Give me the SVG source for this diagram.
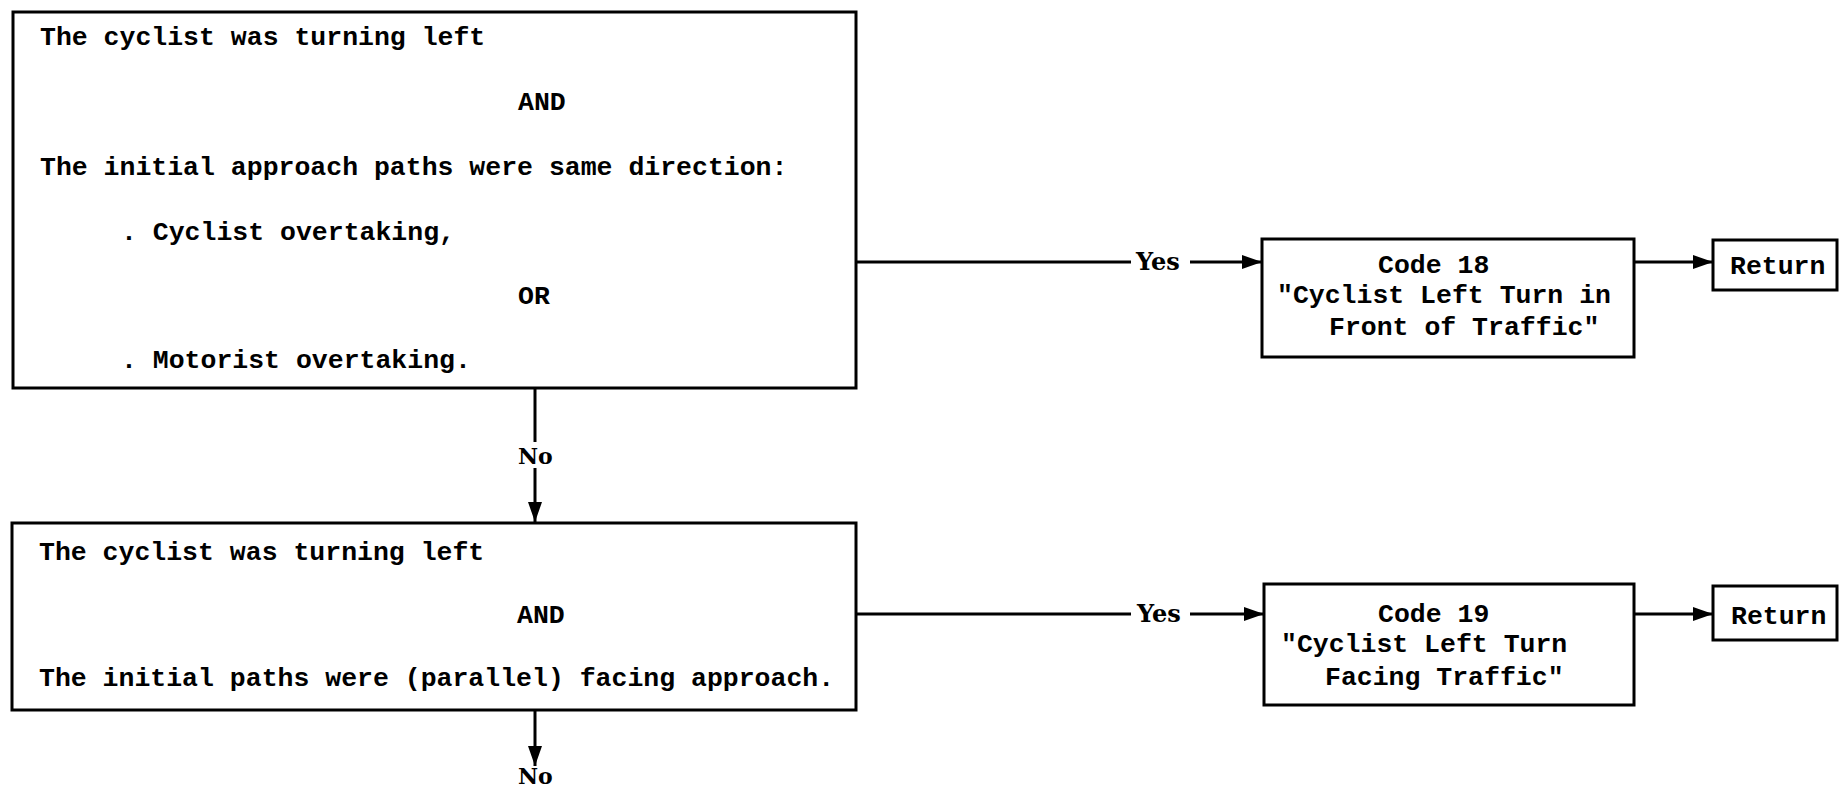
<svg xmlns="http://www.w3.org/2000/svg" width="1839" height="787" viewBox="0 0 1839 787">
<style>
.box{fill:#fff;stroke:#000;stroke-width:3}
.t{font-family:"Liberation Mono","DejaVu Sans Mono",monospace;font-weight:bold;font-size:26.5px;fill:#000}
.lbl{font-family:"DejaVu Serif","Liberation Serif",serif;font-weight:bold;font-size:24px;fill:#000}
.no{font-family:"DejaVu Serif","Liberation Serif",serif;font-weight:bold;font-size:22px;fill:#000}
.ln{fill:none;stroke:#000;stroke-width:3}
</style>
<defs>
<marker id="ah" markerUnits="userSpaceOnUse" markerWidth="22" markerHeight="16" refX="20" refY="8" orient="auto">
<path d="M0,1 L20,8 L0,15 Z" fill="#000"/>
</marker>
</defs>
<rect width="1839" height="787" fill="#fff"/>
<g id="connectors">
<line class="ln" x1="856" y1="262" x2="1131" y2="262"/>
<line class="ln" x1="1190" y1="262" x2="1262" y2="262" marker-end="url(#ah)"/>
<line class="ln" x1="1634" y1="262" x2="1713" y2="262" marker-end="url(#ah)"/>
<line class="ln" x1="535" y1="388" x2="535" y2="442"/>
<line class="ln" x1="535" y1="468" x2="535" y2="522" marker-end="url(#ah)"/>
<line class="ln" x1="856" y1="614" x2="1131" y2="614"/>
<line class="ln" x1="1190" y1="614" x2="1264" y2="614" marker-end="url(#ah)"/>
<line class="ln" x1="1634" y1="614" x2="1713" y2="614" marker-end="url(#ah)"/>
<line class="ln" x1="535" y1="710" x2="535" y2="766" marker-end="url(#ah)"/>
<text class="lbl" x="1136" y="270">Yes</text>
<text class="lbl" x="1137" y="622">Yes</text>
<text class="no" x="518" y="464">No</text>
<text class="no" x="518" y="784">No</text>
</g>
<g id="cond1">
<rect class="box" x="13" y="12" width="843" height="376"/>
<text class="t" x="40" y="45">The cyclist was turning left</text>
<text class="t" x="518" y="110">AND</text>
<text class="t" x="40" y="175">The initial approach paths were same direction:</text>
<text class="t" x="121" y="240">. Cyclist overtaking,</text>
<text class="t" x="518" y="304">OR</text>
<text class="t" x="121" y="368">. Motorist overtaking.</text>
</g>
<g id="code18">
<rect class="box" x="1262" y="239" width="372" height="118"/>
<text class="t" x="1378" y="273">Code 18</text>
<text class="t" x="1277" y="303">"Cyclist Left Turn in</text>
<text class="t" x="1329" y="335">Front of Traffic"</text>
</g>
<g id="return1">
<rect class="box" x="1713" y="240" width="124" height="50"/>
<text class="t" x="1730" y="274">Return</text>
</g>
<g id="cond2">
<rect class="box" x="12" y="523" width="844" height="187"/>
<text class="t" x="39" y="560">The cyclist was turning left</text>
<text class="t" x="517" y="623">AND</text>
<text class="t" x="39" y="686">The initial paths were (parallel) facing approach.</text>
</g>
<g id="code19">
<rect class="box" x="1264" y="584" width="370" height="121"/>
<text class="t" x="1378" y="622">Code 19</text>
<text class="t" x="1281" y="652">"Cyclist Left Turn</text>
<text class="t" x="1325" y="685">Facing Traffic"</text>
</g>
<g id="return2">
<rect class="box" x="1713" y="586" width="124" height="54"/>
<text class="t" x="1731" y="624">Return</text>
</g>
</svg>
